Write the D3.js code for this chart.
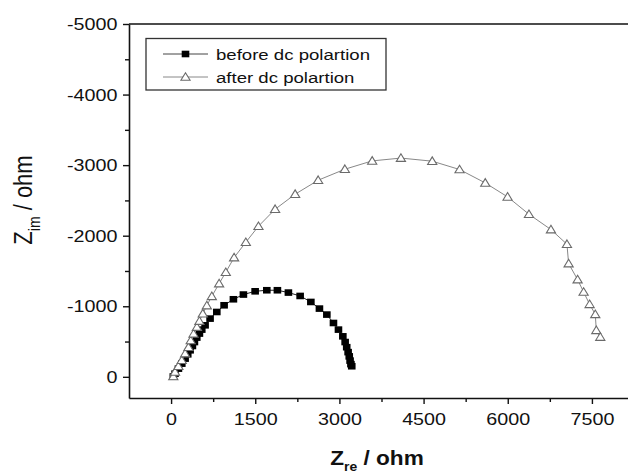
<!DOCTYPE html>
<html>
<head>
<meta charset="utf-8">
<script src="https://cdn.jsdelivr.net/npm/d3@7"></script>
<style>
  body { margin: 0; background: #fff; }
  svg text { font-family: Arial, "Liberation Sans", sans-serif; fill: #111; }
</style>
</head>
<body>
<svg id="chart" width="628" height="474"></svg>
<script>
// data (Z_re, Z_im in ohm)
var beforeRe = [40, 71, 131, 191, 250, 297, 339, 380, 416, 458, 505, 547, 606, 695, 815, 945,
                1111, 1289, 1498, 1706, 1895, 2091, 2300, 2491, 2644, 2776, 2894, 2983, 3061, 3102, 3130, 3155, 3175, 3190, 3205, 3220];
var beforeIm = [-5, -45, -116, -187, -258, -319, -376, -437, -493, -556, -613, -669, -730, -825, -919, -1014,
                -1099, -1166, -1212, -1227, -1227, -1194, -1146, -1061, -967, -882, -763, -669, -574, -493, -420, -350, -290, -230, -180, -150];

var afterRe = [40, 70, 130, 190, 250, 310, 350, 400, 460, 505, 565, 637, 726, 856, 975, 1123, 1332, 1557, 1854, 2211, 2621,
               3097, 3584, 4096, 4654, 5141, 5599, 5997, 6378, 6770, 7055, 7085, 7245, 7352, 7459, 7560, 7578, 7649];
var afterIm = [-5, -70, -150, -235, -330, -420, -515, -610, -705, -790, -895, -1010, -1141, -1321, -1482, -1690, -1907, -2134, -2375, -2588, -2786,
               -2942, -3060, -3100, -3056, -2938, -2748, -2550, -2304, -2087, -1879, -1605, -1378, -1202, -1028, -886, -659, -564];

var xTicks = [0, 1500, 3000, 4500, 6000, 7500],
    xMinor = [750, 2250, 3750, 5250, 6750],
    yTicks = [-5000, -4000, -3000, -2000, -1000, 0],
    yMinor = [-4500, -3500, -2500, -1500, -500];

var seriesNames = ["before dc polartion", "after dc polartion"];

var before = beforeRe.map(function(d, i) { return {re: d, im: beforeIm[i]}; });
var after = afterRe.map(function(d, i) { return {re: d, im: afterIm[i]}; });

var svg = d3.select("#chart"),
    plotL = 129, plotR = 634, plotT = 24, plotB = 398,
    stretch = 1.16; // the source figure is a bit wider than tall

var x = d3.scaleLinear().domain([-750, 8250]).range([plotL, plotR]),
    y = d3.scaleLinear().domain([300, -5000]).range([plotB, plotT]);

// minor ticks first
svg.append("g")
    .attr("transform", "translate(0," + plotB + ")")
    .call(d3.axisBottom(x).tickValues(xMinor).tickSize(4).tickFormat("").tickSizeOuter(0))
    .call(function(g) { g.select(".domain").remove(); });
svg.append("g")
    .attr("transform", "translate(" + plotL + ",0)")
    .call(d3.axisLeft(y).tickValues(yMinor).tickSize(4).tickFormat("").tickSizeOuter(0))
    .call(function(g) { g.select(".domain").remove(); });

var xAxis = svg.append("g")
    .attr("transform", "translate(0," + plotB + ")")
    .call(d3.axisBottom(x).tickValues(xTicks).tickSize(6).tickPadding(9).tickSizeOuter(0)
      .tickFormat(function(d) { return String(d); }));

var yAxis = svg.append("g")
    .attr("transform", "translate(" + plotL + ",0)")
    .call(d3.axisLeft(y).tickValues(yTicks).tickSize(6).tickPadding(4).tickSizeOuter(0)
      .tickFormat(function(d) { return String(d); }));

svg.selectAll(".tick line").attr("stroke", "#111").attr("stroke-width", 1.4);
svg.selectAll(".domain").attr("stroke", "#111").attr("stroke-width", 1.6);
svg.selectAll(".tick text")
    .style("font-size", "17px")
    .attr("fill", "#111")
    .attr("transform", "scale(" + stretch + ",1)");

// top / right frame
svg.append("line").attr("x1", plotL).attr("x2", plotR).attr("y1", plotT).attr("y2", plotT)
    .attr("stroke", "#111").attr("stroke-width", 1.6);
svg.append("line").attr("x1", plotR).attr("x2", plotR).attr("y1", plotT).attr("y2", plotB)
    .attr("stroke", "#111").attr("stroke-width", 1.6);

var line = d3.line().x(function(d) { return x(d.re); }).y(function(d) { return y(d.im); });

// before: black squares
svg.append("path").datum(before)
    .attr("d", line).attr("fill", "none").attr("stroke", "#222").attr("stroke-width", 1);
svg.selectAll(".sq").data(before).enter().append("rect")
    .attr("class", "sq")
    .attr("x", function(d) { return x(d.re) - 3.8; })
    .attr("y", function(d) { return y(d.im) - 3.3; })
    .attr("width", 7.6).attr("height", 6.6)
    .attr("fill", "#000");

// after: open triangles
var tri = "M0,-4.3L4.6,3.3L-4.6,3.3Z";
svg.append("path").datum(after)
    .attr("d", line).attr("fill", "none").attr("stroke", "#888").attr("stroke-width", 1);
svg.selectAll(".tri").data(after).enter().append("path")
    .attr("class", "tri")
    .attr("d", tri)
    .attr("transform", function(d) { return "translate(" + x(d.re) + "," + y(d.im) + ")"; })
    .attr("fill", "#fff").attr("stroke", "#6a6a6a").attr("stroke-width", 1.1);

// legend
var lg = svg.append("g");
lg.append("rect").attr("x", 146).attr("y", 38.5).attr("width", 240).attr("height", 51.5)
    .attr("fill", "#fff").attr("stroke", "#333").attr("stroke-width", 1.3);
var rows = [54, 77];
lg.append("line").attr("x1", 163).attr("x2", 208).attr("y1", rows[0]).attr("y2", rows[0])
    .attr("stroke", "#444").attr("stroke-width", 1);
lg.append("rect").attr("x", 185.5 - 3.8).attr("y", rows[0] - 3.3).attr("width", 7.6).attr("height", 6.6).attr("fill", "#000");
lg.append("line").attr("x1", 163).attr("x2", 208).attr("y1", rows[1]).attr("y2", rows[1])
    .attr("stroke", "#888").attr("stroke-width", 1);
lg.append("path").attr("d", tri).attr("transform", "translate(185.5," + rows[1] + ")")
    .attr("fill", "#fff").attr("stroke", "#6a6a6a").attr("stroke-width", 1.1);
lg.selectAll(".lt").data(seriesNames).enter().append("text")
    .attr("class", "lt")
    .attr("transform", function(d, i) { return "translate(216," + (rows[i] + 5.5) + ") scale(1.2,1)"; })
    .style("font-size", "15.5px")
    .text(function(d) { return d; });

// axis titles (subscript runs off the bottom edge, as in the source)
var xt = svg.append("text")
    .attr("transform", "translate(377,465) scale(" + stretch + ",1)")
    .attr("text-anchor", "middle")
    .style("font-size", "19.5px").style("font-weight", "bold");
xt.append("tspan").text("Z");
xt.append("tspan").attr("dy", 6).style("font-size", "12px").text("re");
xt.append("tspan").attr("dy", -6).text(" / ohm");

var yt = svg.append("text")
    .attr("transform", "translate(32,200) scale(" + stretch + ",1) rotate(-90)")
    .attr("text-anchor", "middle")
    .style("font-size", "22px");
yt.append("tspan").text("Z");
yt.append("tspan").attr("dy", 7).style("font-size", "14px").text("im");
yt.append("tspan").attr("dy", -7).text(" / ohm");
</script>
</body>
</html>
